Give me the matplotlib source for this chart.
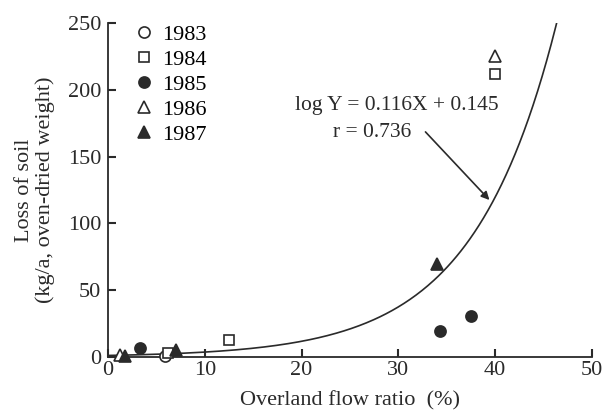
import numpy as np
import matplotlib
matplotlib.use('Agg')
import matplotlib.pyplot as plt

plt.rcParams['font.family'] = ['Liberation Serif', 'DejaVu Serif']

# data: overland flow ratio (%) vs loss of soil (kg/a)
years = ['1983', '1984', '1985', '1986', '1987']
x_1983 = [5.9]
y_1983 = [0.5]
x_1984 = [6.2, 12.5, 40.0]
y_1984 = [3.0, 12.7, 212.0]
x_1985 = [3.3, 34.3, 37.5]
y_1985 = [6.5, 19.4, 30.6]
x_1986 = [1.2, 40.0]
y_1986 = [1.5, 225.0]
x_1987 = [1.8, 7.0, 34.0]
y_1987 = [0.5, 5.2, 69.4]

# fitted curve  log Y = 0.116X + 0.145  (natural log)
slope = 0.116
intercept = 0.145

ink = '#2a2a2a'
fs = 16

fig = plt.figure(figsize=(6.09, 4.13), dpi=100)
ax = fig.add_axes([108 / 609, 56 / 413, 484 / 609, 334 / 413])

xs = np.linspace(0, 46.4, 300)
ax.plot(xs, np.exp(slope * xs + intercept), color=ink, lw=1.2, zorder=2)

ms = 8
series = [
    (x_1983, y_1983, dict(marker='o', mfc='white', mec=ink, ms=ms)),
    (x_1984, y_1984, dict(marker='s', mfc='white', mec=ink, ms=ms - 1)),
    (x_1985, y_1985, dict(marker='o', mfc=ink, mec=ink, ms=ms)),
    (x_1986, y_1986, dict(marker='^', mfc='white', mec=ink, ms=ms + 1)),
    (x_1987, y_1987, dict(marker='^', mfc=ink, mec=ink, ms=ms + 1)),
]
handles = []
for (xv, yv, style), yr in zip(series, years):
    h, = ax.plot(xv, yv, ls='none', mew=1.2, label=yr, clip_on=False, zorder=3, **style)
    handles.append(h)

ax.legend(handles=handles, loc='upper left', bbox_to_anchor=(0.038, 1.022),
          frameon=False, fontsize=fs, handlelength=0.8, handletextpad=0.4,
          labelspacing=0.2, borderaxespad=0)

ax.text(19.3, 188.6, 'log Y = 0.116X + 0.145', fontsize=15.5, color=ink, va='center')
ax.text(23.2, 167.7, 'r = 0.736', fontsize=15.5, color=ink, va='center')
ax.annotate('', xy=(39.6, 116), xytext=(32.6, 170),
            arrowprops=dict(arrowstyle='-|>', color=ink, lw=1.2, mutation_scale=12))

ax.set_xlim(0, 50)
ax.set_ylim(0, 250)
ax.set_xticks([0, 10, 20, 30, 40, 50])
ax.set_yticks([0, 50, 100, 150, 200, 250])
for s in ['top', 'right']:
    ax.spines[s].set_visible(False)
for s in ['left', 'bottom']:
    ax.spines[s].set_color(ink)
    ax.spines[s].set_linewidth(1.3)
ax.tick_params(direction='in', length=6, width=1.5, colors=ink, labelsize=fs)
ax.tick_params(axis='x', pad=3)
ax.tick_params(axis='y', pad=5)

ax.set_xlabel('Overland flow ratio  (%)', fontsize=fs, color=ink, labelpad=8)
ax.set_ylabel('Loss of soil\n(kg/a, oven-dried weight)', fontsize=fs, color=ink,
              linespacing=1.1)
ax.yaxis.set_label_coords(-0.11, 0.5)

fig.savefig('out.png', dpi=100)
